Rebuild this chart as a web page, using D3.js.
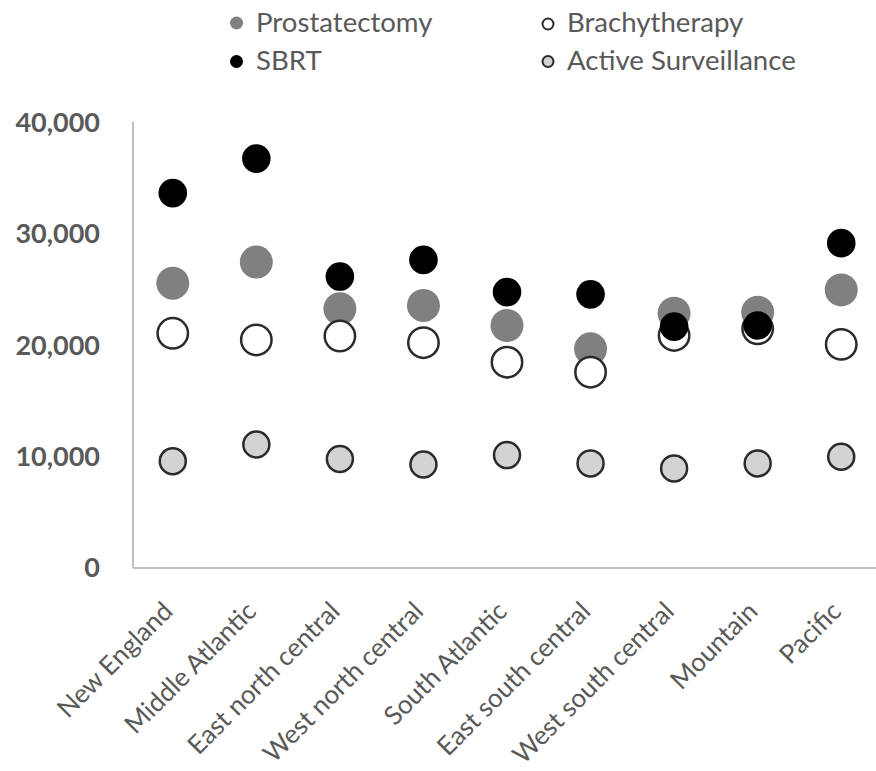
<!DOCTYPE html>
<html>
<head>
<meta charset="utf-8">
<script src="https://cdn.jsdelivr.net/npm/d3@7"></script>
<style>
  html, body { margin: 0; padding: 0; background: #fff; }
  svg { display: block; }
</style>
</head>
<body>
<svg id="chart" width="876" height="771"></svg>
<script>
const categories = ["New England", "Middle Atlantic", "East north central", "West north central",
  "South Atlantic", "East south central", "West south central", "Mountain", "Pacific"];
const prostatectomy = [25600, 27500, 23300, 23600, 21800, 19700, 22900, 23000, 25000];
const brachytherapy = [21100, 20500, 20850, 20250, 18500, 17600, 20900, 21500, 20100];
const sbrt = [33700, 36800, 26200, 27700, 24800, 24600, 21700, 21800, 29200];
const activeSurveillance = [9600, 11100, 9800, 9300, 10150, 9400, 8950, 9400, 10000];
const yTicks = [0, 10000, 20000, 30000, 40000];

const series = [
  { name: "Prostatectomy", values: prostatectomy, fill: "#808080", stroke: "none", sw: 0, r: 16.5, lr: 6.5 },
  { name: "Brachytherapy", values: brachytherapy, fill: "#ffffff", stroke: "#2b2b2b", sw: 2.5, r: 15.2, lr: 5.5 },
  { name: "SBRT", values: sbrt, fill: "#000000", stroke: "none", sw: 0, r: 14.3, lr: 6.5 },
  { name: "Active Surveillance", values: activeSurveillance, fill: "#d3d3d3", stroke: "#2b2b2b", sw: 2.5, r: 13, lr: 5.5 }
];

const svg = d3.select("#chart");
const font = "Lato, 'Open Sans', sans-serif";
const textColor = "#595959";

const x = d3.scalePoint().domain(categories).range([131, 883]).padding(0.5);
const y = d3.scaleLinear().domain([0, 40000]).range([568, 123]);

// Y axis
const yAxis = svg.append("g").attr("transform", "translate(133,0)")
  .call(d3.axisLeft(y).tickValues(yTicks).tickSize(0).tickPadding(33).tickFormat(d3.format(",")));
yAxis.select(".domain").attr("stroke", "#bfbfbf").attr("stroke-width", 2)
  .attr("d", `M0,${y(40000) - 1}V${y(0)}`);
yAxis.selectAll("text").attr("fill", textColor).attr("font-family", font)
  .attr("font-size", 27).attr("font-weight", "bold");

// X axis
const xAxis = svg.append("g").attr("transform", `translate(0,${y(0)})`)
  .call(d3.axisBottom(x).tickSize(0));
xAxis.select(".domain").attr("stroke", "#bfbfbf").attr("stroke-width", 2)
  .attr("d", `M133,0H876`);
xAxis.selectAll("text")
  .attr("fill", textColor).attr("font-family", font).attr("font-size", 26)
  .attr("text-anchor", "end").attr("y", 0).attr("dy", 0)
  .attr("transform", "translate(1,45) rotate(-45)");

// Points
series.forEach(s => {
  svg.append("g").selectAll("circle").data(s.values).join("circle")
    .attr("cx", (d, i) => x(categories[i]))
    .attr("cy", d => y(d))
    .attr("r", s.r)
    .attr("fill", s.fill)
    .attr("stroke", s.stroke)
    .attr("stroke-width", s.sw);
});

// Legend
const legendPos = [
  { mx: 236.5, my: 23, tx: 256, ty: 32 },
  { mx: 548, my: 24, tx: 567, ty: 32 },
  { mx: 236.5, my: 61.5, tx: 256, ty: 70 },
  { mx: 548, my: 61.5, tx: 567, ty: 70 }
];
const legend = svg.append("g");
series.forEach((s, i) => {
  const p = legendPos[i];
  legend.append("circle").attr("cx", p.mx).attr("cy", p.my).attr("r", s.lr)
    .attr("fill", s.fill).attr("stroke", s.stroke).attr("stroke-width", s.sw ? 2 : 0);
  legend.append("text").attr("x", p.tx).attr("y", p.ty).text(s.name)
    .attr("fill", textColor).attr("font-family", font).attr("font-size", 27.6);
});
</script>
</body>
</html>
